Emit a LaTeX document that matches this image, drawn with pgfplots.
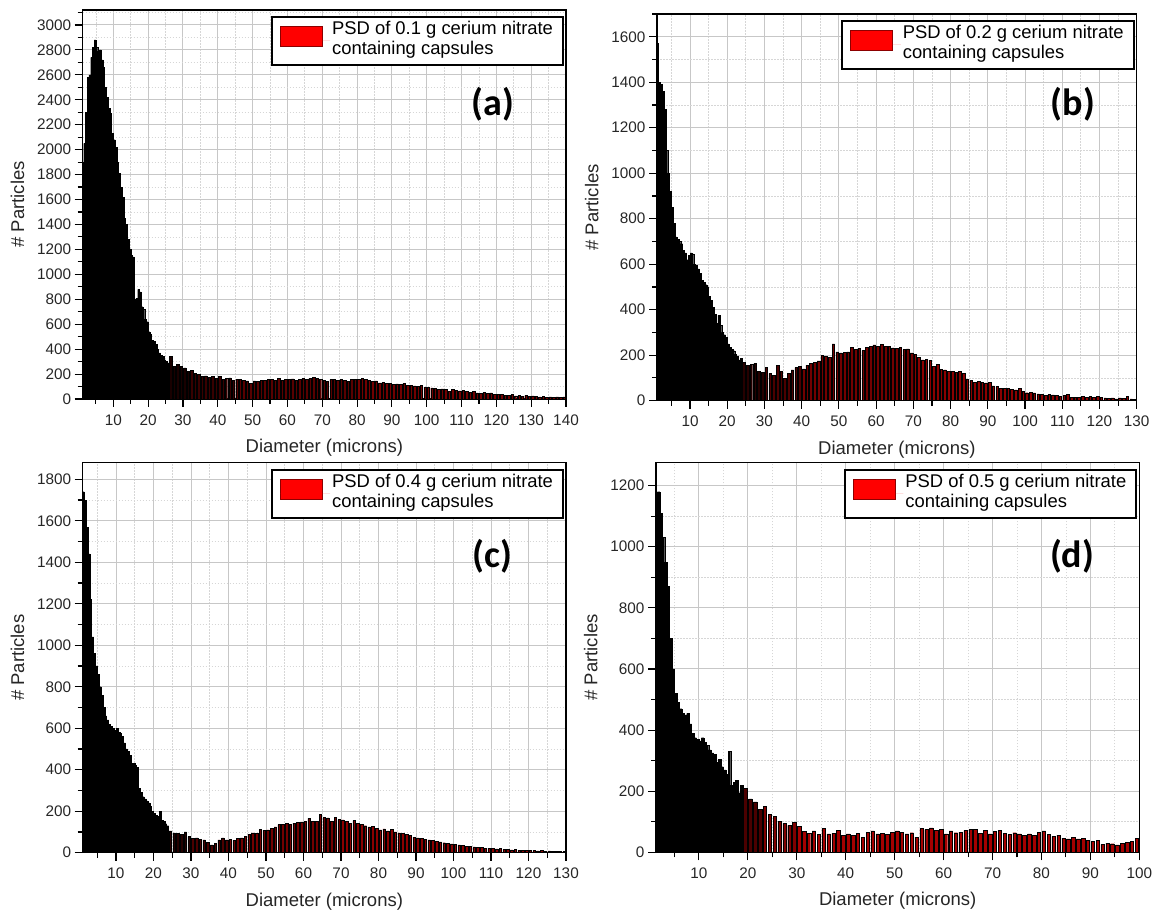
\documentclass[border=0pt]{standalone}
\usepackage{pgfplots}
\pgfplotsset{compat=1.18}
\usepackage{pgfplotstable}
\usepackage{fontspec}
\setmainfont{Liberation Sans}
\newfontfamily\carl{Carlito}

% ---------- panel (a) ----------
\pgfplotstableread[row sep=\\]{x y\\1.25 1900\\1.75 2050\\2.25 2300\\2.75 2580\\3.25 2600\\3.75 2740\\4.25 2820\\4.75 2880\\5.25 2820\\5.75 2790\\6.25 2800\\6.75 2720\\7.25 2660\\7.75 2500\\8.25 2420\\8.75 2330\\9.25 2290\\9.75 2130\\10.25 2080\\10.75 2020\\11.25 1900\\11.75 1810\\12.25 1700\\12.75 1620\\13.25 1450\\13.75 1400\\14.25 1280\\14.75 1200\\15.25 1150\\15.75 1140\\16.25 800\\16.75 810\\17.25 880\\17.75 860\\18.25 740\\18.75 720\\19.25 640\\19.75 620\\20.25 540\\20.75 520\\21.25 470\\21.75 460\\22.25 440\\22.75 400\\23.25 370\\23.75 350\\24.25 340\\24.75 310\\25.25 300\\25.75 290\\}\ablk
\pgfplotstableread[row sep=\\]{x y\\26.5 340\\27.5 260\\28.5 275\\29.5 260\\30.5 250\\31.5 220\\32.5 230\\33.5 205\\34.5 200\\35.5 180\\36.5 185\\37.5 175\\38.5 180\\39.5 165\\40.5 180\\41.5 160\\42.5 165\\43.5 170\\44.5 150\\45.5 158\\46.5 160\\47.5 150\\48.5 145\\49.5 125\\50.5 145\\51.5 140\\52.5 148\\53.5 150\\54.5 158\\55.5 160\\56.5 150\\57.5 165\\58.5 150\\59.5 160\\60.5 158\\61.5 162\\62.5 150\\63.5 160\\64.5 165\\65.5 155\\66.5 168\\67.5 172\\68.5 165\\69.5 160\\70.5 150\\71.5 140\\72.5 155\\73.5 158\\74.5 150\\75.5 160\\76.5 148\\77.5 142\\78.5 158\\79.5 160\\80.5 155\\81.5 165\\82.5 160\\83.5 150\\84.5 140\\85.5 145\\86.5 130\\87.5 135\\88.5 128\\89.5 125\\90.5 120\\91.5 122\\92.5 118\\93.5 125\\94.5 110\\95.5 112\\96.5 105\\97.5 100\\98.5 108\\99.5 95\\100.5 92\\101.5 90\\102.5 85\\103.5 80\\104.5 82\\105.5 78\\106.5 60\\107.5 75\\108.5 70\\109.5 65\\110.5 68\\111.5 60\\112.5 55\\113.5 62\\114.5 50\\115.5 48\\116.5 52\\117.5 45\\118.5 50\\119.5 35\\120.5 40\\121.5 38\\122.5 30\\123.5 28\\124.5 35\\125.5 25\\126.5 30\\127.5 22\\128.5 28\\129.5 20\\130.5 25\\131.5 20\\132.5 18\\133.5 22\\134.5 15\\135.5 18\\136.5 15\\137.5 18\\138.5 15\\139.5 17\\}\atail

% ---------- panel (b) ----------
\pgfplotstableread[row sep=\\]{x y\\1.25 1570\\1.75 1400\\2.25 1390\\2.75 1360\\3.25 1280\\3.75 1100\\4.25 1000\\4.75 920\\5.25 850\\5.75 780\\6.25 720\\6.75 710\\7.25 700\\7.75 690\\8.25 660\\8.75 650\\9.25 620\\9.75 640\\10.25 650\\10.75 645\\11.25 600\\11.75 595\\12.25 580\\12.75 560\\13.25 530\\13.75 520\\14.25 510\\14.75 500\\15.25 460\\15.75 440\\16.25 410\\16.75 380\\17.25 340\\17.75 375\\18.25 330\\18.75 300\\19.25 290\\19.75 280\\20.25 250\\20.75 235\\21.25 225\\21.75 220\\22.25 205\\22.75 195\\23.25 180\\23.75 185\\}\bblk
\pgfplotstableread[row sep=\\]{x y\\24.5 170\\25.5 155\\26.5 160\\27.5 165\\28.5 130\\29.5 125\\30.5 148\\31.5 120\\32.5 112\\33.5 155\\34.5 130\\35.5 98\\36.5 120\\37.5 135\\38.5 145\\39.5 150\\40.5 140\\41.5 155\\42.5 165\\43.5 170\\44.5 175\\45.5 200\\46.5 195\\47.5 190\\48.5 250\\49.5 215\\50.5 210\\51.5 212\\52.5 215\\53.5 235\\54.5 225\\55.5 230\\56.5 220\\57.5 235\\58.5 240\\59.5 245\\60.5 240\\61.5 248\\62.5 238\\63.5 240\\64.5 232\\65.5 230\\66.5 235\\67.5 225\\68.5 228\\69.5 210\\70.5 205\\71.5 190\\72.5 180\\73.5 182\\74.5 178\\75.5 150\\76.5 160\\77.5 138\\78.5 135\\79.5 130\\80.5 128\\81.5 125\\82.5 128\\83.5 120\\84.5 95\\85.5 90\\86.5 82\\87.5 85\\88.5 80\\89.5 78\\90.5 80\\91.5 65\\92.5 62\\93.5 55\\94.5 55\\95.5 54\\96.5 50\\97.5 48\\98.5 55\\99.5 40\\100.5 35\\101.5 36\\102.5 34\\103.5 30\\104.5 28\\105.5 25\\106.5 28\\107.5 26\\108.5 24\\109.5 20\\110.5 22\\111.5 28\\112.5 16\\113.5 15\\114.5 14\\115.5 18\\116.5 15\\117.5 18\\118.5 16\\119.5 18\\120.5 14\\121.5 12\\122.5 10\\123.5 12\\124.5 8\\125.5 12\\126.5 10\\127.5 20\\128.5 8\\129.5 6\\}\btail

% ---------- panel (c) ----------
\pgfplotstableread[row sep=\\]{x y\\1.25 1740\\1.75 1700\\2.25 1570\\2.75 1440\\3.25 1220\\3.75 1040\\4.25 960\\4.75 900\\5.25 860\\5.75 800\\6.25 760\\6.75 700\\7.25 660\\7.75 640\\8.25 620\\8.75 610\\9.25 600\\9.75 590\\10.25 600\\10.75 580\\11.25 575\\11.75 560\\12.25 530\\12.75 500\\13.25 490\\13.75 470\\14.25 430\\14.75 430\\15.25 420\\15.75 410\\16.25 310\\16.75 290\\17.25 270\\17.75 260\\18.25 250\\18.75 240\\19.25 225\\19.75 200\\20.25 190\\20.75 180\\21.25 175\\21.75 200\\22.25 155\\22.75 150\\23.25 140\\23.75 130\\}\cblk
\pgfplotstableread[row sep=\\]{x y\\24.5 105\\25.5 95\\26.5 92\\27.5 88\\28.5 100\\29.5 78\\30.5 70\\31.5 72\\32.5 66\\33.5 62\\34.5 50\\35.5 38\\36.5 45\\37.5 62\\38.5 72\\39.5 62\\40.5 65\\41.5 60\\42.5 68\\43.5 72\\44.5 80\\45.5 88\\46.5 95\\47.5 92\\48.5 112\\49.5 108\\50.5 110\\51.5 118\\52.5 125\\53.5 135\\54.5 138\\55.5 140\\56.5 135\\57.5 142\\58.5 145\\59.5 148\\60.5 150\\61.5 165\\62.5 150\\63.5 152\\64.5 185\\65.5 170\\66.5 168\\67.5 150\\68.5 170\\69.5 160\\70.5 158\\71.5 150\\72.5 142\\73.5 155\\74.5 140\\75.5 138\\76.5 130\\77.5 125\\78.5 128\\79.5 118\\80.5 110\\81.5 115\\82.5 105\\83.5 112\\84.5 100\\85.5 95\\86.5 92\\87.5 88\\88.5 85\\89.5 75\\90.5 72\\91.5 70\\92.5 65\\93.5 62\\94.5 58\\95.5 55\\96.5 52\\97.5 48\\98.5 45\\99.5 42\\100.5 40\\101.5 38\\102.5 35\\103.5 32\\104.5 30\\105.5 28\\106.5 26\\107.5 25\\108.5 22\\109.5 22\\110.5 20\\111.5 18\\112.5 20\\113.5 16\\114.5 15\\115.5 14\\116.5 15\\117.5 12\\118.5 12\\119.5 10\\120.5 12\\121.5 10\\122.5 9\\123.5 10\\124.5 8\\125.5 9\\126.5 8\\127.5 7\\128.5 8\\129.5 6\\}\ctail

% ---------- panel (d) ----------
\pgfplotstableread[row sep=\\]{x y\\1.25 1140\\1.75 1180\\2.25 1110\\2.75 1030\\3.25 950\\3.75 870\\4.25 700\\4.75 600\\5.25 520\\5.75 490\\6.25 470\\6.75 455\\7.25 450\\7.75 455\\8.25 420\\8.75 390\\9.25 375\\9.75 370\\10.25 365\\10.75 375\\11.25 360\\11.75 350\\12.25 335\\12.75 325\\13.25 320\\13.75 295\\14.25 305\\14.75 280\\15.25 270\\15.75 255\\16.25 330\\16.75 220\\17.25 230\\17.75 235\\18.25 195\\18.75 220\\}\dblk
\pgfplotstableread[row sep=\\]{x y\\19.5 210\\20.5 175\\21.5 165\\22.5 140\\23.5 150\\24.5 125\\25.5 118\\26.5 102\\27.5 95\\28.5 88\\29.5 98\\30.5 84\\31.5 68\\32.5 62\\33.5 70\\34.5 58\\35.5 78\\36.5 60\\37.5 62\\38.5 72\\39.5 55\\40.5 60\\41.5 56\\42.5 62\\43.5 48\\44.5 66\\45.5 70\\46.5 60\\47.5 62\\48.5 58\\49.5 65\\50.5 70\\51.5 66\\52.5 60\\53.5 64\\54.5 50\\55.5 78\\56.5 74\\57.5 80\\58.5 72\\59.5 76\\60.5 60\\61.5 70\\62.5 64\\63.5 66\\64.5 72\\65.5 75\\66.5 76\\67.5 62\\68.5 72\\69.5 60\\70.5 68\\71.5 72\\72.5 62\\73.5 58\\74.5 64\\75.5 60\\76.5 56\\77.5 60\\78.5 55\\79.5 66\\80.5 70\\81.5 58\\82.5 52\\83.5 56\\84.5 46\\85.5 44\\86.5 50\\87.5 44\\88.5 46\\89.5 40\\90.5 36\\91.5 38\\92.5 26\\93.5 30\\94.5 28\\95.5 24\\96.5 30\\97.5 32\\98.5 36\\99.5 45\\}\dtail

\pgfplotsset{
  psd/.style={
    scale only axis, anchor=south west,
    axis line style={line width=1.3pt, black},
    tick style={line width=1.1pt, black},
    tick align=outside, tick pos=left,
    major tick length=8pt, minor tick length=5pt,
    grid=both,
    major grid style={line width=1pt, black!22},
    minor grid style={line width=0.8pt, black!16, dash pattern=on 1.5pt off 1.5pt},
    ymin=0,
    scaled ticks=false,
    /pgf/number format/1000 sep={},
    /pgf/number format/assume math mode=true,
    tick label style={font=\fontsize{15.3}{17}\selectfont, text=black!85},
    xticklabel shift=4pt,
    label style={font=\fontsize{18.5}{21}\selectfont, text=black!85},
    xlabel shift=7pt, ylabel shift=6pt,
    xlabel={Diameter (microns)}, ylabel={\# Particles},
    legend style={at={(1,1)}, anchor=north east, xshift=-2pt, yshift=-6pt,
      draw=black, line width=2pt, inner xsep=8pt, inner ysep=2pt,
      nodes={inner sep=2pt, text depth={}},
      font=\fontsize{18.4}{20}\selectfont, cells={anchor=west}},
    legend image code/.code={\draw[#1] (0pt,-5.5pt) rectangle (42pt,14.5pt); \path[draw=none] (0pt,0pt) -- (50pt,0pt);},
  },
  blk/.style={ybar, bar shift=0pt, bar width=0.5, fill=black, draw=black, line width=0.3pt, forget plot},
  tl/.style={ybar, bar shift=0pt, bar width=0.7, fill=#1, draw=black, line width=0.45pt, forget plot},
}
\newcommand{\lgd}[1]{\addlegendimage{fill=red, draw=red!55!black, line width=0.7pt}
  \addlegendentry{\begin{tabular}{@{}l@{}}PSD of #1 g cerium nitrate\\containing capsules\end{tabular}}}
\newcommand{\plab}[3]{\node[font=\carl\bfseries\fontsize{38}{40}\selectfont] at (rel axis cs:#1,#2) {(#3)};}

\begin{document}
\begin{tikzpicture}
\useasboundingbox (0,0) rectangle (1156pt,913pt);
% (a)
\begin{axis}[psd, at={(82.7pt,514pt)}, width=483.3pt, height=389pt,
  xmin=1.2, xmax=140, ymax=3120,
  xtick={10,20,...,140}, minor xtick={5,15,...,135},
  ytick={0,200,...,3000}, minor ytick={100,300,...,3100}]
  \addplot[blk] table {\ablk};
  \addplot[tl=red!10!black, restrict x to domain=26:32] table {\atail};
  \addplot[tl=red!22!black, restrict x to domain=32:45] table {\atail};
  \addplot[tl=red!35!black, restrict x to domain=45:80] table {\atail};
  \addplot[tl=red!45!black, restrict x to domain=80:140] table {\atail};
  \lgd{0.1}
  \plab{0.849}{0.758}{a}
\end{axis}
% (b)
\begin{axis}[psd, at={(657pt,512.3pt)}, width=479.7pt, height=386.7pt,
  xmin=1.13, xmax=130, ymax=1700,
  xtick={10,20,...,130}, minor xtick={5,15,...,125},
  ytick={0,200,...,1600}, minor ytick={100,300,...,1700}]
  \addplot[blk] table {\bblk};
  \addplot[tl=red!15!black, restrict x to domain=24:30] table {\btail};
  \addplot[tl=red!30!black, restrict x to domain=30:40] table {\btail};
  \addplot[tl=red!45!black, restrict x to domain=40:70] table {\btail};
  \addplot[tl=red!55!black, restrict x to domain=70:130] table {\btail};
  \lgd{0.2}
  \plab{0.867}{0.767}{b}
\end{axis}
% (c)
\begin{axis}[psd, at={(82.7pt,60.3pt)}, width=483.3pt, height=390pt,
  xmin=1.12, xmax=130, ymax=1880,
  xtick={10,20,...,130}, minor xtick={5,15,...,125},
  ytick={0,200,...,1800}, minor ytick={100,300,...,1700}]
  \addplot[blk] table {\cblk};
  \addplot[tl=red!15!black, restrict x to domain=24:30] table {\ctail};
  \addplot[tl=red!30!black, restrict x to domain=30:40] table {\ctail};
  \addplot[tl=red!45!black, restrict x to domain=40:70] table {\ctail};
  \addplot[tl=red!55!black, restrict x to domain=70:130] table {\ctail};
  \lgd{0.4}
  \plab{0.847}{0.761}{c}
\end{axis}
% (d)
\begin{axis}[psd, at={(656pt,60.7pt)}, width=483.3pt, height=389.6pt,
  xmin=1.23, xmax=100, ymax=1275,
  xtick={10,20,...,100}, minor xtick={5,15,...,95},
  ytick={0,200,...,1200}, minor ytick={100,300,...,1100}]
  \addplot[blk] table {\dblk};
  \addplot[tl=red!30!black, restrict x to domain=19:23] table {\dtail};
  \addplot[tl=red!50!black, restrict x to domain=23:30] table {\dtail};
  \addplot[tl=red!65!black, restrict x to domain=30:100] table {\dtail};
  \lgd{0.5}
  \plab{0.861}{0.761}{d}
\end{axis}
\end{tikzpicture}
\end{document}
